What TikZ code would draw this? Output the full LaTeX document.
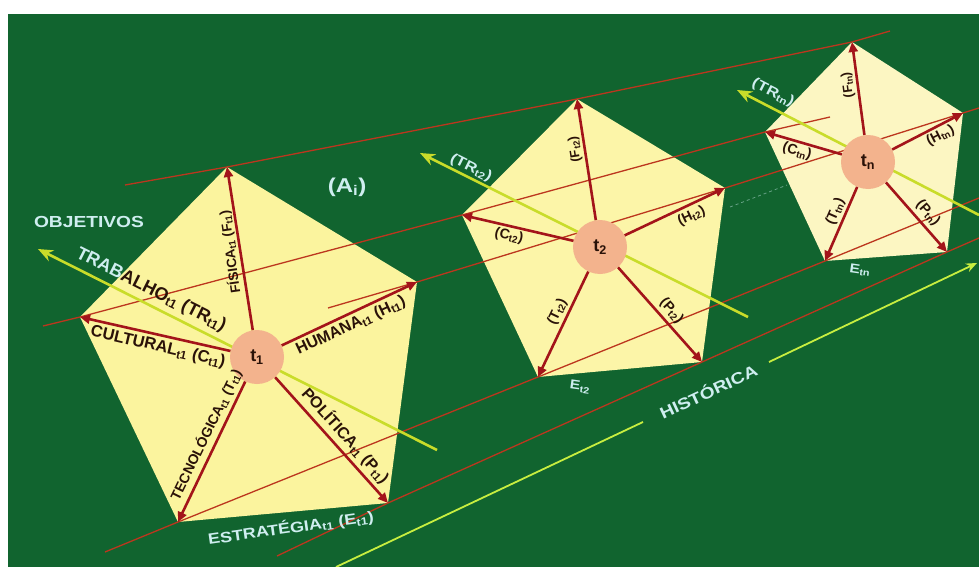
\documentclass[tikz,border=0pt]{standalone}
\usepackage{fontspec}
\setmainfont{Liberation Sans}
\newfontfamily\wideff[FakeStretch=1.2]{Liberation Sans}
\usetikzlibrary{arrows.meta}
\definecolor{bg}{HTML}{11642F}
\definecolor{pentA}{HTML}{FBF49E}
\definecolor{pentB}{HTML}{FCF5A8}
\definecolor{pentC}{HTML}{FCF6C2}
\definecolor{peach}{HTML}{F3B38D}
\definecolor{linkred}{HTML}{BC361E}
\definecolor{arrred}{HTML}{A3141A}
\definecolor{axisyel}{HTML}{C9DC2A}
\definecolor{histyel}{HTML}{C8EE40}
\definecolor{darkt}{HTML}{2A1208}
\definecolor{lightt}{HTML}{CFEEF0}
\begin{document}
\begin{tikzpicture}[x=1pt,y=-1pt,
  link/.style={draw=linkred,line width=1.3pt,line join=round},
  rarrow/.style={draw=arrred,line width=2.6pt,-{Triangle[length=10pt,width=9pt]}},
  yaxis/.style={draw=axisyel,line width=2.6pt,-{Stealth[length=15pt,width=12pt]}},
  hist/.style={draw=histyel,line width=1.8pt},
  tcirc/.style={circle,fill=peach,minimum size=54pt,inner sep=0pt,text=darkt,font=\bfseries\fontsize{18}{18}\selectfont},
  dk/.style={text=darkt,inner sep=0pt,font=\bfseries\fontsize{#1}{#1}\selectfont},
  lt/.style={text=lightt,inner sep=0pt,font=\wideff\bfseries\fontsize{#1}{#1}\selectfont}]
\useasboundingbox (0,0) rectangle (979,567);
\fill[white] (0,0) rectangle (979,567);
\fill[bg] (8,14) rectangle (979,567);

% vertices
\coordinate (p1F) at (227,167); \coordinate (p1H) at (417,282); \coordinate (p1P) at (388,503);
\coordinate (p1T) at (178,522); \coordinate (p1C) at (80,317);
\coordinate (p2F) at (577,99); \coordinate (p2H) at (725,188); \coordinate (p2P) at (702,362);
\coordinate (p2T) at (538,377); \coordinate (p2C) at (462,215);
\coordinate (p3F) at (852,42); \coordinate (p3H) at (963,113); \coordinate (p3P) at (947,252);
\coordinate (p3T) at (825,261); \coordinate (p3C) at (765,132);

% pentagons
\fill[pentA] (p1F) -- (p1H) -- (p1P) -- (p1T) -- (p1C) -- cycle;
\fill[pentB] (p2F) -- (p2H) -- (p2P) -- (p2T) -- (p2C) -- cycle;
\fill[pentC] (p3F) -- (p3H) -- (p3P) -- (p3T) -- (p3C) -- cycle;

% linking lines
\coordinate (l1s) at (125,185); \coordinate (l1e) at (890,31);
\coordinate (l2s) at (328,308); \coordinate (l2e) at (979,108);
\coordinate (l3s) at (43,326);  \coordinate (l3e) at (830,117);
\coordinate (l4s) at (105,552); \coordinate (l4e) at (979,198);
\coordinate (l5s) at (277,556); \coordinate (l5e) at (979,238);
\draw[link] (l1s) -- (p1F) -- (p2F) -- (p3F) -- (l1e);
\draw[link] (l2s) -- (p1H) -- (p2H) -- (p3H) -- (l2e);
\draw[link] (l3s) -- (p1C) -- (p2C) -- (p3C) -- (l3e);
\draw[link] (l4s) -- (p1T) -- (p2T) -- (p3T) -- (l4e);
\draw[link] (l5s) -- (p1P) -- (p2P) -- (p3P) -- (l5e);
\coordinate (dsh1) at (730,207); \coordinate (dsh2) at (787,185);
\draw[draw=lightt,opacity=0.45,line width=0.8pt,dashed] (dsh1) -- (dsh2);

% yellow axes
\coordinate (y1a) at (437,450); \coordinate (y1b) at (38,249);
\coordinate (y2a) at (748,317); \coordinate (y2b) at (420,153);
\coordinate (y3a) at (979,215); \coordinate (y3b) at (737,90);
\draw[yaxis] (y1a) -- (y1b);
\draw[yaxis] (y2a) -- (y2b);
\draw[yaxis] (y3a) -- (y3b);

% historica line
\coordinate (h1) at (336,567); \coordinate (h2) at (643,422);
\coordinate (h3) at (769,362); \coordinate (h4) at (977,263);
\draw[hist] (h1) -- (h2);
\draw[hist,-{Stealth[length=11pt,width=9pt]}] (h3) -- (h4);

% centres
\node[tcirc] (t1) at (257,357) {t\textsubscript{1}};
\node[tcirc] (t2) at (600,247) {t\textsubscript{2}};
\node[tcirc] (tn) at (868,162) {t\textsubscript{n}};

% red arrows
\foreach \v in {F,H,P,T,C}{
  \draw[rarrow] (t1) -- (p1\v);
  \draw[rarrow] (t2) -- (p2\v);
  \draw[rarrow] (tn) -- (p3\v);
}

% labels pentagon 1
\node[dk=18,rotate=-26.7] (lTR1) at (151,290) {\textcolor{lightt}{TRAB}ALHO\textsubscript{t1} (TR\textsubscript{t1})};
\node[dk=13.5,rotate=98] (lF1) at (230,252) {FÍSICA\textsubscript{t1} (F\textsubscript{t1})};
\node[dk=16.5,rotate=-13] (lC1) at (158,347) {CULTURAL\textsubscript{t1} (C\textsubscript{t1})};
\node[dk=16,rotate=25] (lH1) at (351,326) {HUMANA\textsubscript{t1} (H\textsubscript{t1})};
\node[dk=14,rotate=64] (lT1) at (206,434.5) {TECNOLÓGICA\textsubscript{t1} (T\textsubscript{t1})};
\node[dk=16,rotate=-48] (lP1) at (345.5,435.5) {POLÍTICA\textsubscript{t1} (P\textsubscript{t1})};
\node[lt=15,rotate=8] (lE1) at (291,528) {ESTRATÉGIA\textsubscript{t1} (E\textsubscript{t1})};
\node[lt=16] (lObj) at (89,222) {OBJETIVOS};
\node[lt=20] (lA) at (347,187) {(A\textsubscript{i})};
\node[lt=16,rotate=25] (lHist) at (708,391) {HISTÓRICA};

% labels pentagon 2
\node[lt=14,rotate=-26.7] (lTR2) at (471,168) {(TR\textsubscript{t2})};
\node[dk=13,rotate=99] (lF2) at (575,149.5) {(F\textsubscript{t2})};
\node[dk=14,rotate=-13] (lC2) at (509,236) {(C\textsubscript{t2})};
\node[dk=14,rotate=25] (lH2) at (691.5,216) {(H\textsubscript{t2})};
\node[dk=14,rotate=64.5] (lT2) at (557.5,311.5) {(T\textsubscript{t2})};
\node[dk=14,rotate=-48.4] (lP2) at (671.5,311) {(P\textsubscript{t2})};
\node[lt=13,rotate=-8] (lE2) at (580,387) {E\textsubscript{t2}};

% labels pentagon 3
\node[lt=14,rotate=-27] (lTR3) at (773,93) {(TR\textsubscript{tn})};
\node[dk=13,rotate=97.6] (lF3) at (848,85) {(F\textsubscript{tn})};
\node[dk=14,rotate=-16] (lC3) at (797,151.5) {(C\textsubscript{tn})};
\node[dk=14,rotate=27] (lH3) at (940.5,135.5) {(H\textsubscript{tn})};
\node[dk=14,rotate=66.5] (lT3) at (835.5,211.5) {(T\textsubscript{tn})};
\node[dk=14,rotate=-48.7] (lP3) at (928,213) {(P\textsubscript{tn})};
\node[lt=13,rotate=-8] (lE3) at (860,270) {E\textsubscript{tn}};
\end{tikzpicture}
\end{document}
